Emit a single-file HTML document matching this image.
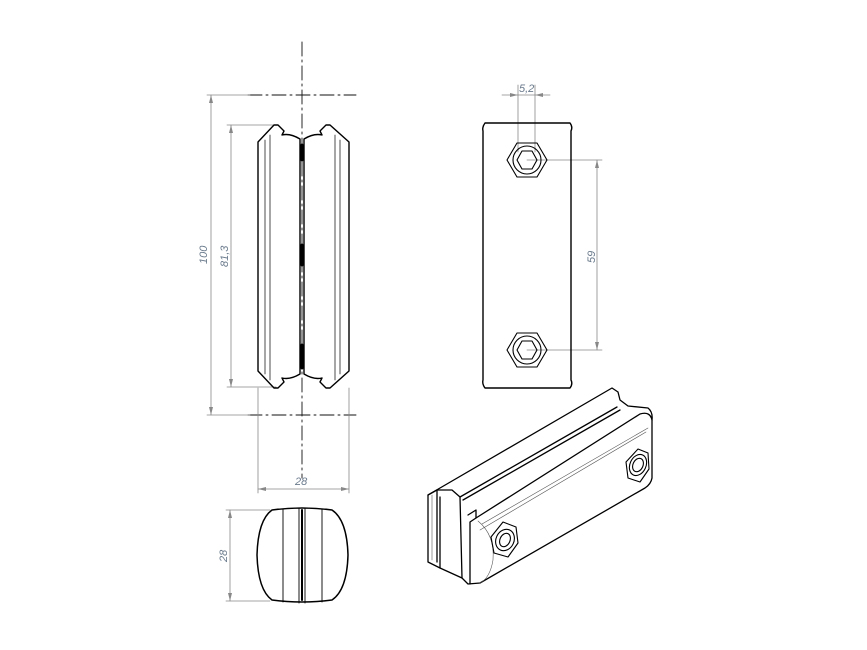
<!DOCTYPE html>
<html><head><meta charset="utf-8"><style>
html,body{margin:0;padding:0;background:#fff;width:867px;height:650px;overflow:hidden}
svg text{font-family:"Liberation Sans",sans-serif;font-style:italic;font-size:11px;fill:#6a7a8c}
</style></head><body>
<svg width="867" height="650" viewBox="0 0 867 650" xmlns="http://www.w3.org/2000/svg">
<g fill="none" stroke="#000" stroke-linecap="round" stroke-linejoin="round">
<g stroke="#111" stroke-width="0.9" stroke-dasharray="14,4,2,4">
<line x1="302" y1="42" x2="302" y2="478"/>
<line x1="248" y1="95" x2="356" y2="95"/>
<line x1="248" y1="415" x2="356" y2="415"/>
</g>
<g stroke="#888" stroke-width="0.8">
<line x1="207" y1="95" x2="250" y2="95"/>
<line x1="207" y1="415" x2="250" y2="415"/>
<line x1="211" y1="95" x2="211" y2="415"/>
<line x1="227" y1="125" x2="276" y2="125"/>
<line x1="227" y1="387" x2="276" y2="387"/>
<line x1="231" y1="125" x2="231" y2="387"/>
<line x1="258" y1="388" x2="258" y2="493"/>
<line x1="349" y1="388" x2="349" y2="493"/>
<line x1="258" y1="489" x2="349" y2="489"/>
<line x1="226" y1="510" x2="270" y2="510"/>
<line x1="226" y1="601" x2="270" y2="601"/>
<line x1="230" y1="510" x2="230" y2="601"/>
<line x1="518" y1="85" x2="518" y2="152"/>
<line x1="535" y1="85" x2="535" y2="152"/>
<line x1="502" y1="95" x2="550" y2="95"/>
<line x1="527" y1="160" x2="602" y2="160"/>
<line x1="527" y1="350" x2="602" y2="350"/>
<line x1="597" y1="160" x2="597" y2="350"/>
</g>
<g stroke-width="1.4">
<path d="M300,139 Q290,133 282,135 L284,131 L278,125 L274,125 L258,142 L258,371 L274,388 L278,388 L284,382 L282,378 Q290,380 300,374 Z"/>
<path d="M304,139 Q314,133 322,135 L320,131 L326,125 L330,125 L349,142 L349,371 L330,388 L326,388 L320,382 L322,378 Q314,380 304,374 Z"/>
</g>
<g stroke-width="0.7">
<line x1="265" y1="140" x2="265" y2="374"/><line x1="270" y1="135" x2="270" y2="380"/>
<line x1="340" y1="140" x2="340" y2="374"/><line x1="335" y1="135" x2="335" y2="380"/>
</g>
<g stroke-width="3">
<line x1="302" y1="145" x2="302" y2="160"/><line x1="302" y1="245" x2="302" y2="265"/><line x1="302" y1="345" x2="302" y2="368"/>
</g>
<path d="M272,510 Q302,506 332,510 Q347,520 348,555 Q347,590 332,600 Q302,604 272,600 Q258,590 257,555 Q258,520 272,510 Z" stroke-width="1.5"/>
<g stroke-width="0.9">
<line x1="283" y1="509" x2="283" y2="602"/><line x1="322" y1="509" x2="322" y2="602"/>
<line x1="299" y1="508" x2="299" y2="603"/><line x1="305" y1="508" x2="305" y2="603"/>
</g>
<line x1="302" y1="510" x2="302" y2="600" stroke-width="2"/>
<path d="M485,123 L570,123 Q573,127 571,131 L571,380 Q573,384 570,388 L485,388 Q482,384 483,380 L483,131 Q482,127 485,123 Z" stroke-width="1.4"/>
<g stroke-width="1.1">
<polygon points="547,160 537,177 517,177 507,160 517,143 537,143"/>
<circle cx="527" cy="160" r="14"/>
<polygon points="537,160 532,169 522,169 517,160 522,151 532,151"/>
<polygon points="547,350 537,367 517,367 507,350 517,333 537,333"/>
<circle cx="527" cy="350" r="14"/>
<polygon points="537,350 532,359 522,359 517,350 522,341 532,341"/>
</g>
<g stroke-width="1.3">
<path d="M428,495 L612,388 L618,392 L620,400 L628,406 L648,408 Q653,412 652,420 L652,478 Q651,484 645,488 L480,583 L468,584 L462,578 L440,568 L428,562 Z"/>
<path d="M428,495 L437,490 L452,490 L460,497 L462,578"/>
<path d="M437,490 L437,562"/>
<path d="M440,497 L440,568"/>
<path d="M460,497 L617,407"/>
<path d="M463,500 L620,410"/>
<path d="M468,515 L476,510 L476,518 L470,522 L470,584"/>
<path d="M476,518 L640,414 Q650,411 652,420"/>
</g>
<g stroke-width="0.6" stroke="#555">
<path d="M478,521 Q495,535 493,560 Q490,578 480,583"/>
<path d="M482,524 L648,428"/>
<path d="M480,530 L646,432"/>
<line x1="432" y1="495" x2="432" y2="560"/>
</g>
<g stroke-width="1.1">
<polygon points="503,522 516,527 518,543 508,557 494,553 491,537"/>
<ellipse cx="505" cy="540" rx="9" ry="11" transform="rotate(25 505 540)"/>
<ellipse cx="505" cy="540" rx="5" ry="7" transform="rotate(25 505 540)"/>
<polygon points="638,449 648,453 649,469 640,482 628,478 626,462"/>
<ellipse cx="638" cy="465" rx="8" ry="11" transform="rotate(25 638 465)"/>
<ellipse cx="638" cy="465" rx="5" ry="7" transform="rotate(25 638 465)"/>
</g>
</g>
<g fill="#888">
<polygon points="211,95 209,103 213,103"/><polygon points="211,415 209,407 213,407"/>
<polygon points="231,125 229,133 233,133"/><polygon points="231,387 229,379 233,379"/>
<polygon points="258,489 266,487 266,491"/><polygon points="349,489 341,487 341,491"/>
<polygon points="230,510 228,518 232,518"/><polygon points="230,601 228,593 232,593"/>
<polygon points="518,95 510,93 510,97"/><polygon points="535,95 543,93 543,97"/>
<polygon points="597,160 595,168 599,168"/><polygon points="597,350 595,342 599,342"/>
</g>
<text x="0" y="0" transform="translate(207,264) rotate(-90)">100</text>
<text x="0" y="0" transform="translate(228,267) rotate(-90)">81,3</text>
<text x="295" y="485">28</text>
<text x="0" y="0" transform="translate(227,562) rotate(-90)">28</text>
<text x="519" y="92">5,2</text>
<text x="0" y="0" transform="translate(595,263) rotate(-90)">59</text>
</svg>
</body></html>
